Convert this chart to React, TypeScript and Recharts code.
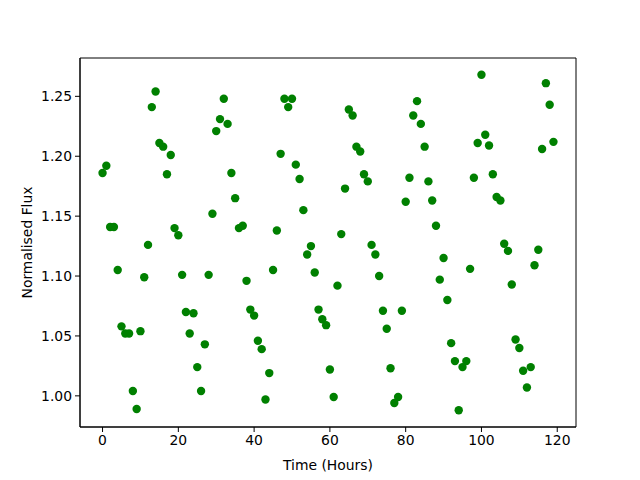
import React from 'react';
import {
  ScatterChart,
  Scatter,
  XAxis,
  YAxis,
  ReferenceArea,
  Label,
} from 'recharts';

// hours 0..119, one reading per hour
const hours: number[] = Array.from({ length: 120 }, (_, i) => i);

const flux: number[] = [
  1.186, 1.192, 1.141, 1.141, 1.105, 1.058, 1.052, 1.052, 1.004, 0.989,
  1.054, 1.099, 1.126, 1.241, 1.254, 1.211, 1.208, 1.185, 1.201, 1.140,
  1.134, 1.101, 1.070, 1.052, 1.069, 1.024, 1.004, 1.043, 1.101, 1.152,
  1.221, 1.231, 1.248, 1.227, 1.186, 1.165, 1.140, 1.142, 1.096, 1.072,
  1.067, 1.046, 1.039, 0.997, 1.019, 1.105, 1.138, 1.202, 1.248, 1.241,
  1.248, 1.193, 1.181, 1.155, 1.118, 1.125, 1.103, 1.072, 1.064, 1.059,
  1.022, 0.999, 1.092, 1.135, 1.173, 1.239, 1.234, 1.208, 1.204, 1.185,
  1.179, 1.126, 1.118, 1.100, 1.071, 1.056, 1.023, 0.994, 0.999, 1.071,
  1.162, 1.182, 1.234, 1.246, 1.227, 1.208, 1.179, 1.163, 1.142, 1.097,
  1.115, 1.080, 1.044, 1.029, 0.988, 1.024, 1.029, 1.106, 1.182, 1.211,
  1.268, 1.218, 1.209, 1.185, 1.166, 1.163, 1.127, 1.121, 1.093, 1.047,
  1.040, 1.021, 1.007, 1.024, 1.109, 1.122, 1.206, 1.261, 1.243, 1.212,
];

const xTicks = [0, 20, 40, 60, 80, 100, 120];
const yTicks = [1.0, 1.05, 1.1, 1.15, 1.2, 1.25];

const X_DOMAIN: [number, number] = [-5.95, 124.95];
const Y_DOMAIN: [number, number] = [0.974, 1.282];

const FONT = 'DejaVu Sans';
const tickStyle = { fill: '#000', fontSize: 13.9, fontFamily: FONT };

const points = hours.map((h, i) => ({ x: h, y: flux[i] }));

const Dot = (props: any) => (
  <circle cx={props.cx} cy={props.cy} r={4.2} fill="#008000" />
);

export default function App() {
  return (
    <div style={{ position: 'absolute', left: 0, top: 0, width: 640, height: 480, background: '#fff' }}>
      <ScatterChart
        width={640}
        height={480}
        margin={{ top: 58, right: 64, bottom: 0, left: 0 }}
      >
        <XAxis
          type="number"
          dataKey="x"
          domain={X_DOMAIN}
          ticks={xTicks}
          allowDataOverflow
          height={53}
          stroke="#000"
          tickSize={5}
          tickMargin={3}
          tick={tickStyle}
        >
          <Label
            value="Time (Hours)"
            position="insideBottom"
            offset={10}
            style={{ fill: '#000', fontSize: 13.9, fontFamily: FONT }}
          />
        </XAxis>
        <YAxis
          type="number"
          dataKey="y"
          domain={Y_DOMAIN}
          ticks={yTicks}
          allowDataOverflow
          width={80}
          stroke="#000"
          tickSize={5}
          tickMargin={3}
          tick={tickStyle}
          tickFormatter={(v: number) => v.toFixed(2)}
        >
          <Label
            value="Normalised Flux"
            angle={-90}
            position="insideLeft"
            offset={27}
            style={{ fill: '#000', fontSize: 13.9, fontFamily: FONT, textAnchor: 'middle' }}
          />
        </YAxis>
        <ReferenceArea
          x1={X_DOMAIN[0]}
          x2={X_DOMAIN[1]}
          y1={Y_DOMAIN[0]}
          y2={Y_DOMAIN[1]}
          fill="none"
          stroke="#000"
          strokeWidth={1}
        />
        <Scatter data={points} shape={Dot} isAnimationActive={false} />
      </ScatterChart>
    </div>
  );
}
